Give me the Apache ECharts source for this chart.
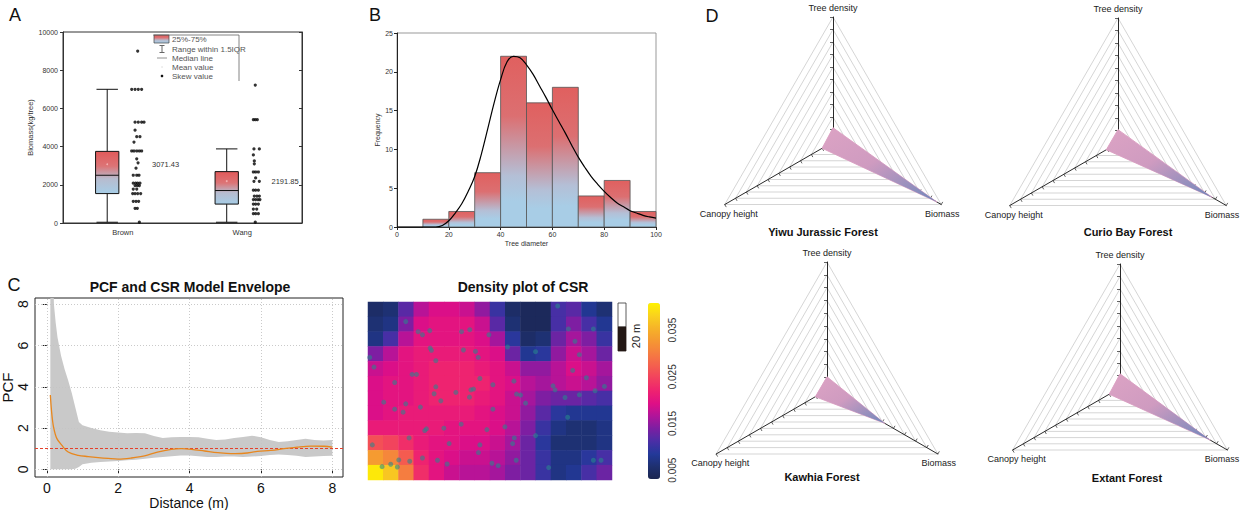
<!DOCTYPE html>
<html><head><meta charset="utf-8">
<script src="https://cdn.jsdelivr.net/npm/echarts@6/dist/echarts.min.js"></script>
<style>html,body{margin:0;padding:0;background:#fff}#main{width:1241px;height:510px}</style>
</head><body><div id="main"></div>
<script>
// ---------- Panel A: biomass box plot ----------
const boxCategories = ['Brown', 'Wang'];
// [lower whisker, Q1, median, Q3, upper whisker]
const boxStats = [[40, 1540, 2500, 3750, 7000], [40, 990, 1700, 2690, 3880]];
const boxMeans = [3071.43, 2191.85];
const legendLabels = ['25%-75%', 'Range within 1.5IQR', 'Median line', 'Mean value', 'Skew value'];
// [jitter offset from category, biomass]
const brownPoints = [
  [0.125,9000],
  [0.075,7000],[0.103,7000],[0.130,7000],[0.158,7000],
  [0.103,5280],[0.130,5280],[0.158,5280],[0.178,5280],
  [0.103,4860],[0.117,4520],[0.144,4520],[0.094,4240],
  [0.075,3770],[0.094,3770],[0.117,3770],[0.139,3770],[0.158,3770],
  [0.117,3360],[0.128,3150],[0.111,2870],
  [0.088,2500],[0.117,2500],[0.136,2500],
  [0.088,2085],[0.108,2085],[0.125,2085],[0.144,2085],
  [0.103,1960],[0.122,1960],[0.139,1960],
  [0.088,1775],[0.117,1775],
  [0.083,1540],[0.103,1540],[0.125,1540],[0.150,1540],
  [0.088,1135],[0.111,1135],[0.133,1135],
  [0.103,770],[0.122,770],[0.139,40]
];
const wangPoints = [
  [0.109,7220],
  [0.093,5410],[0.109,5410],[0.126,5410],
  [0.098,3880],[0.143,3880],[0.093,3565],[0.101,3250],[0.101,3100],
  [0.093,2670],[0.112,2670],[0.135,2670],[0.112,2360],
  [0.098,2180],[0.143,2180],
  [0.093,1720],[0.112,1720],[0.135,1720],
  [0.101,1410],[0.123,1410],[0.143,1410],
  [0.093,1225],[0.112,1225],[0.132,1225],[0.148,1225],
  [0.093,990],[0.112,990],[0.135,990],
  [0.093,730],[0.121,730],
  [0.093,490],[0.112,490],[0.135,490],[0.109,40]
];

// ---------- Panel B: histogram ----------
const binStarts = [10, 20, 30, 40, 50, 60, 70, 80, 90];
const binWidth = 10;
const binCounts = [1, 2, 7, 22, 16, 18, 4, 6, 2];
const fitX = [0,5,10,15,17.5,20,22.5,25,27.5,30,32.5,35,37.5,40,42.5,45,47.5,50,52.5,55,57.5,60,62.5,65,67.5,70,72.5,75,77.5,80,82.5,85,87.5,90,92.5,95,97.5,100];
const fitY = [0,0,0,0,0.2,0.8,1.8,3.0,4.6,6.5,9.3,12.6,16.0,19.0,21.3,22.0,21.8,20.9,19.7,18.2,16.7,15.1,13.6,12.1,10.5,9.0,7.7,6.5,5.5,4.6,3.8,3.1,2.6,2.1,1.8,1.5,1.3,1.15];

// ---------- Panel C: PCF + envelope ----------
const envX = [0.1,0.15,0.2,0.25,0.3,0.4,0.5,0.6,0.7,0.8,0.9,1.0,1.25,1.5,1.75,2,2.25,2.5,2.75,3,3.25,3.5,3.75,4,4.25,4.5,4.75,5,5.25,5.5,5.75,6,6.25,6.5,6.75,7,7.25,7.5,7.75,8];
const envHigh = [12,12,8.0,7.1,6.4,5.5,4.85,4.3,3.7,3.0,2.3,2.14,2.0,1.9,1.82,1.78,1.75,1.76,1.75,1.62,1.52,1.55,1.57,1.57,1.55,1.48,1.42,1.45,1.52,1.57,1.63,1.56,1.42,1.33,1.36,1.42,1.48,1.42,1.40,1.42];
const envLow = [0,0,0,0,0,0,0,0,0,0.03,0.12,0.25,0.32,0.36,0.38,0.40,0.44,0.47,0.52,0.56,0.60,0.63,0.67,0.67,0.64,0.60,0.60,0.62,0.62,0.60,0.62,0.65,0.70,0.72,0.70,0.66,0.60,0.62,0.65,0.66];
const pcfX = [0.1,0.14,0.19,0.28,0.42,0.6,0.88,1.16,1.44,1.72,2.0,2.37,2.74,3.1,3.49,3.77,4.05,4.42,4.79,5.16,5.53,5.9,6.28,6.65,7.02,7.4,7.77,8.0];
const pcfY = [3.6,2.7,2.05,1.5,1.17,0.84,0.68,0.62,0.57,0.53,0.5,0.55,0.65,0.84,0.97,1.0,0.97,0.89,0.81,0.76,0.78,0.87,0.92,1.0,1.08,1.13,1.12,1.08];
const csrLevel = 1;
const pcfTicks = [0, 2, 4, 6, 8];

// ---------- Panel C: density of CSR ----------
const plotWidthM = 203, plotHeightM = 148;
// rows listed from top to bottom, 16 columns each
const densityGrid = [
  [0.005,0.006,0.012,0.017,0.019,0.019,0.018,0.015,0.010,0.005,0.004,0.004,0.011,0.012,0.008,0.006],
  [0.006,0.007,0.014,0.019,0.020,0.020,0.020,0.018,0.012,0.006,0.004,0.004,0.011,0.014,0.011,0.008],
  [0.007,0.011,0.017,0.020,0.020,0.020,0.020,0.019,0.016,0.009,0.005,0.006,0.013,0.016,0.014,0.010],
  [0.014,0.017,0.020,0.021,0.021,0.021,0.021,0.020,0.019,0.013,0.008,0.009,0.015,0.018,0.016,0.013],
  [0.018,0.019,0.020,0.021,0.022,0.022,0.022,0.021,0.020,0.018,0.015,0.015,0.017,0.019,0.018,0.016],
  [0.019,0.020,0.020,0.021,0.022,0.022,0.022,0.022,0.020,0.019,0.017,0.016,0.017,0.018,0.017,0.015],
  [0.019,0.020,0.020,0.021,0.022,0.022,0.022,0.021,0.020,0.018,0.016,0.014,0.013,0.013,0.012,0.011],
  [0.019,0.020,0.021,0.021,0.021,0.021,0.021,0.020,0.019,0.018,0.015,0.012,0.009,0.008,0.008,0.008],
  [0.021,0.021,0.021,0.021,0.021,0.020,0.020,0.020,0.019,0.017,0.014,0.010,0.007,0.006,0.006,0.007],
  [0.026,0.025,0.023,0.021,0.020,0.020,0.019,0.019,0.018,0.016,0.013,0.009,0.006,0.006,0.006,0.007],
  [0.033,0.031,0.027,0.022,0.020,0.019,0.018,0.018,0.017,0.015,0.013,0.010,0.007,0.007,0.009,0.011],
  [0.040,0.037,0.030,0.023,0.020,0.018,0.017,0.017,0.016,0.014,0.013,0.010,0.007,0.008,0.011,0.013]
];
const csrPoints = [
  [31.4,131.7],[41.7,123.3],[45.3,120.8],[51.4,124.2],[77.8,123.3],[84.7,125.0],[100.6,120.8],[157.8,144.7],
  [166.7,125.6],[187.5,125.6],[172.2,115.3],[175.8,104.2],[116.1,110.6],[139.4,106.7],[1.4,101.9],[5.0,93.9],
  [51.7,109.7],[52.8,107.8],[56.4,99.2],[79.4,108.1],[89.4,106.9],[91.7,101.9],[36.7,87.8],[40.3,87.8],
  [22.2,81.1],[93.1,84.4],[103.9,79.2],[121.4,82.2],[56.4,77.5],[55.0,71.7],[73.1,72.8],[85.6,75.0],
  [87.8,75.6],[84.4,68.9],[123.6,71.4],[126.9,70.6],[131.1,63.9],[153.9,78.3],[155.6,75.0],[170.3,91.1],
  [181.7,85.0],[188.9,74.2],[196.7,77.8],[175.8,70.8],[163.9,68.6],[13.1,64.7],[31.4,63.3],[22.2,58.9],
  [29.2,56.4],[43.6,60.6],[60.6,65.8],[103.9,58.9],[166.1,52.2],[3.6,29.2],[34.2,35.0],[47.2,41.1],
  [48.6,42.5],[63.1,43.1],[77.5,46.4],[98.9,41.9],[113.9,44.2],[121.7,35.0],[120.3,30.3],[139.4,36.9],
  [67.5,30.3],[93.1,29.2],[91.9,22.8],[45.3,18.3],[57.8,16.4],[65.8,13.3],[103.1,13.9],[108.3,11.9],
  [123.3,16.4],[150.3,10.3],[187.5,16.4],[193.9,16.4],[11.7,11.1],[18.9,13.1],[24.4,10.8],[25.6,16.7],[34.7,15.6]
];
const densityMin = 0.0031, densityMax = 0.0408;
const colorbarLabels = [0.005, 0.015, 0.025, 0.035];
const colorbarTicks = [0.005, 0.01, 0.015, 0.02, 0.025, 0.03, 0.035, 0.04];
const densityPalette = ['#1b2650','#1e3070','#23399a','#4a2ea6','#7b1fa2','#b0149a','#df0f86','#ee2270','#f2405f','#f45f4e','#f57d40','#f59832','#f6b428','#f9d21e','#fff200'];

// ---------- Panel D: radar ----------
const radarIndicators = ['Tree density', 'Canopy height', 'Biomass'];
const forests = ['Yiwu Jurassic Forest', 'Curio Bay Forest', 'Kawhia Forest', 'Extant Forest'];
const forestValues = [[0.114, 0.10, 0.96], [0.107, 0.108, 0.87], [0.103, 0.105, 0.52], [0.114, 0.10, 0.84]];

// ================= layout / style =================
const FONT = 'Liberation Sans, Arial, sans-serif';
const radarLayout = [
  {c: [833, 142], r: 125, title: [823, 232]},
  {c: [1118, 143], r: 125, title: [1128, 232]},
  {c: [827, 390], r: 128, title: [822, 477]},
  {c: [1120, 388], r: 124, title: [1127, 478]}
];
const BOX_SHIFT = -0.13, BOX_W = 0.195;

function boxGrad() {
  return new echarts.graphic.LinearGradient(0, 0, 0, 1, [
    {offset: 0, color: '#e15a5a'}, {offset: 0.35, color: '#dc7476'},
    {offset: 0.65, color: '#b7bccf'}, {offset: 1, color: '#a6cde6'}]);
}
function barGrad() {
  return new echarts.graphic.LinearGradient(0, 0, 0, 1, [
    {offset: 0, color: '#e0605f'}, {offset: 0.35, color: '#dc6f71'},
    {offset: 0.7, color: '#b4bfd6'}, {offset: 0.85, color: '#a8cde6'}, {offset: 1, color: '#a8cde6'}]);
}

function renderBox(params, api) {
  const c = api.value(0);
  const unit = api.size([1, 0])[0];
  const xc = api.coord([c + BOX_SHIFT, 0])[0];
  const hw = BOX_W * unit / 2;
  const y = k => api.coord([c, api.value(k)])[1];
  const yMin = y(1), yQ1 = y(2), yMed = y(3), yQ3 = y(4), yMax = y(5), yMean = y(6);
  const lbl = api.coord([c + 0.245, api.value(6)]);
  const ln = (x1, y1, x2, y2) => ({type: 'line', shape: {x1, y1, x2, y2}, style: {stroke: '#111', lineWidth: 1}});
  const cw = hw * 0.92;
  return {type: 'group', children: [
    ln(xc, yMax, xc, yQ3), ln(xc, yQ1, xc, yMin),
    ln(xc - cw, yMax, xc + cw, yMax), ln(xc - cw, yMin, xc + cw, yMin),
    {type: 'rect', shape: {x: xc - hw, y: yQ3, width: 2 * hw, height: yQ1 - yQ3}, style: {fill: boxGrad(), stroke: '#111', lineWidth: 1}},
    ln(xc - hw, yMed, xc + hw, yMed),
    {type: 'circle', shape: {cx: xc, cy: yMean, r: 0.9}, style: {fill: '#f4b0b0'}},
    {type: 'text', style: {text: api.value(6).toFixed(2), x: lbl[0], y: lbl[1], fill: '#333', fontSize: 7.5, fontFamily: FONT, align: 'left', verticalAlign: 'middle'}}
  ]};
}
function renderBin(params, api) {
  const p0 = api.coord([api.value(0), api.value(2)]);
  const p1 = api.coord([api.value(1), 0]);
  return {type: 'rect', shape: {x: p0[0], y: p0[1], width: p1[0] - p0[0], height: p1[1] - p0[1]},
    style: {fill: barGrad(), stroke: '#555', lineWidth: 0.8}};
}
function renderEnvelope(params, api) {
  if (params.dataIndex !== 0) return null;
  const upper = envX.map((x, i) => api.coord([x, envHigh[i]]));
  const lower = envX.map((x, i) => api.coord([x, envLow[i]])).reverse();
  return {type: 'polygon', shape: {points: upper.concat(lower)}, style: {fill: '#c9c9c9', stroke: null}};
}

const boxData = boxStats.map((s, i) => [i + 1].concat(s, [boxMeans[i]]));
const jitterData = brownPoints.map(p => [1 + p[0], p[1]]).concat(wangPoints.map(p => [2 + p[0], p[1]]));
const binData = binStarts.map((s, i) => [s, s + binWidth, binCounts[i]]);
const envData = envX.map((x, i) => [x, envLow[i], envHigh[i]]);
const heatData = [];
densityGrid.forEach((row, ri) => row.forEach((v, ci) => heatData.push([ci, densityGrid.length - 1 - ri, v])));
const colCats = densityGrid[0].map((_, i) => String(i));
const rowCats = densityGrid.map((_, i) => String(i));

const gridLineStyle = {color: '#c4c4c4', type: [1, 2], width: 0.9};
const pcfGridLines = pcfTicks.map(v => ({xAxis: v, lineStyle: gridLineStyle})).concat(pcfTicks.map(v => ({yAxis: v, lineStyle: gridLineStyle})));

// ---------- graphic (free texts & decorations) ----------
const graphics = [];
const T = (text, x, y, o) => graphics.push(Object.assign({type: 'text', x, y, style: Object.assign({text, fill: '#111', font: '12px ' + FONT, textAlign: 'center', textVerticalAlign: 'middle'}, o || {})}));
T('A', 15, 15, {font: '18px ' + FONT});
T('B', 375, 15, {font: '18px ' + FONT});
T('C', 14, 285, {font: '18px ' + FONT});
T('D', 712, 16, {font: '18px ' + FONT});
T('PCF and CSR Model Envelope', 190, 287, {font: 'bold 14px ' + FONT});
T('Density plot of CSR', 523, 287, {font: 'bold 14px ' + FONT});
// legend of panel A
const legY = [39, 49, 58, 67, 76];
legendLabels.forEach((t, i) => T(t, 172, legY[i], {font: '8px ' + FONT, fill: '#555', textAlign: 'left'}));
graphics.push({type: 'rect', shape: {x: 154, y: 35, width: 15, height: 8}, style: {fill: boxGrad(), stroke: '#444', lineWidth: 0.7}});
graphics.push({type: 'polyline', shape: {points: [[153, 35], [239, 35], [239, 81]]}, style: {stroke: '#666', lineWidth: 0.8, fill: null}});
graphics.push({type: 'line', shape: {x1: 162, y1: 45.5, x2: 162, y2: 52.5}, style: {stroke: '#666', lineWidth: 1}});
graphics.push({type: 'line', shape: {x1: 159.5, y1: 45.5, x2: 164.5, y2: 45.5}, style: {stroke: '#666', lineWidth: 1}});
graphics.push({type: 'line', shape: {x1: 159.5, y1: 52.5, x2: 164.5, y2: 52.5}, style: {stroke: '#666', lineWidth: 1}});
graphics.push({type: 'line', shape: {x1: 157, y1: 58, x2: 167, y2: 58}, style: {stroke: '#777', lineWidth: 0.8}});
graphics.push({type: 'circle', shape: {cx: 162, cy: 67, r: 0.8}, style: {fill: '#e6e6e6'}});
graphics.push({type: 'circle', shape: {cx: 162, cy: 76, r: 1.3}, style: {fill: '#111'}});
// scale bar of density plot
graphics.push({type: 'rect', shape: {x: 618, y: 303, width: 8, height: 24}, style: {fill: '#fff', stroke: '#333', lineWidth: 0.8}});
graphics.push({type: 'rect', shape: {x: 618, y: 327, width: 8, height: 24}, style: {fill: '#231815', stroke: '#231815', lineWidth: 0.8}});
graphics.push({type: 'text', x: 636, y: 336, rotation: Math.PI / 2, style: {text: '20 m', fill: '#222', font: '11px ' + FONT, textAlign: 'center', textVerticalAlign: 'middle'}});
// radar labels & titles
radarLayout.forEach((L, i) => {
  const [cx, cy] = L.c, r = L.r;
  T(radarIndicators[0], cx, cy - r - 9, {font: '9px ' + FONT, fill: '#222'});
  T(radarIndicators[1], cx - r * 0.866 + 4, cy + r / 2 + 9, {font: '9px ' + FONT, fill: '#222'});
  T(radarIndicators[2], Math.min(cx + r * 0.866 + 1, 1222), cy + r / 2 + 9, {font: '9px ' + FONT, fill: '#222'});
  T(forests[i], L.title[0], L.title[1], {font: 'bold 11px ' + FONT, fill: '#111'});
});

const radarComponents = radarLayout.map(L => ({
  center: L.c, radius: L.r, shape: 'polygon', splitNumber: 10, startAngle: 90,
  indicator: radarIndicators.map(n => ({name: n, min: 0, max: 1})),
  axisName: {show: false},
  splitLine: {lineStyle: {color: '#b8b8b8', width: 0.6}},
  splitArea: {show: false},
  axisLine: {lineStyle: {color: '#111', width: 0.9}},
  axisTick: {show: true, length: 3, lineStyle: {color: '#222', width: 0.7}},
  axisLabel: {show: false}
}));
const radarSeries = forestValues.map((v, i) => ({
  type: 'radar', radarIndex: i, symbol: 'none', silent: true,
  lineStyle: {color: '#e2a6c6', width: 1},
  areaStyle: {opacity: 1, color: new echarts.graphic.LinearGradient(0, 0, 1, 1, [
    {offset: 0, color: '#dca3c4'}, {offset: 0.45, color: '#cf9bc0'}, {offset: 1, color: '#6f87bb'}])},
  data: [{value: v, name: forests[i]}]
}));

const small = {fontSize: 7, color: '#333', fontFamily: FONT};
const option = {
  backgroundColor: '#fff',
  animation: false,
  textStyle: {fontFamily: FONT},
  grid: [
    {left: 63, top: 32, width: 239, height: 191, show: true, borderColor: '#333', borderWidth: 1, outerBoundsMode: 'none'},
    {left: 397, top: 33, width: 259, height: 194, show: true, borderColor: '#999', borderWidth: 1, outerBoundsMode: 'none'},
    {left: 35, top: 298, width: 308, height: 179, show: true, borderColor: '#222', borderWidth: 1, outerBoundsMode: 'none'},
    {left: 368, top: 302, width: 244, height: 178, outerBoundsMode: 'none'},
    {left: 368, top: 302, width: 244, height: 178, outerBoundsMode: 'none'},
    {left: 648, top: 303, width: 12, height: 176, outerBoundsMode: 'none'}
  ],
  xAxis: [
    {gridIndex: 0, type: 'category', data: boxCategories, boundaryGap: true,
      axisLine: {lineStyle: {color: '#333'}}, axisTick: {alignWithLabel: true, length: 3, lineStyle: {color: '#333'}},
      axisLabel: Object.assign({}, small, {fontSize: 7.5, margin: 5}), splitLine: {show: false}},
    {gridIndex: 0, type: 'value', min: 0.5, max: 2.5, show: false},
    {gridIndex: 1, type: 'value', min: 0, max: 100, interval: 20,
      axisLine: {lineStyle: {color: '#222'}}, axisTick: {length: 3, lineStyle: {color: '#222'}},
      axisLabel: Object.assign({}, small, {margin: 4}), splitLine: {show: false},
      name: 'Tree diameter', nameLocation: 'middle', nameGap: 13, nameTextStyle: {fontSize: 7, color: '#333'}},
    {gridIndex: 2, type: 'value', min: -0.33, max: 8.3,
      axisLine: {show: false}, axisTick: {customValues: pcfTicks, length: 4, lineStyle: {color: '#222'}},
      axisLabel: {customValues: pcfTicks, fontSize: 14, color: '#111', margin: 4}, splitLine: {show: false},
      name: 'Distance (m)', nameLocation: 'middle', nameGap: 14, nameTextStyle: {fontSize: 14, color: '#111'}},
    {gridIndex: 3, type: 'category', data: colCats, show: false},
    {gridIndex: 4, type: 'value', min: 0, max: plotWidthM, show: false},
    {gridIndex: 5, type: 'value', min: 0, max: 1, show: false}
  ],
  yAxis: [
    {gridIndex: 0, type: 'value', min: 0, max: 10000, interval: 2000,
      axisLine: {show: true, lineStyle: {color: '#333'}}, axisTick: {show: true, length: 3, lineStyle: {color: '#333'}},
      axisLabel: Object.assign({}, small, {margin: 5, formatter: v => String(v)}), splitLine: {show: false},
      name: 'Biomass(kg/tree)', nameLocation: 'middle', nameGap: 27, nameTextStyle: {fontSize: 7.5, color: '#333'}},
    {gridIndex: 0, type: 'value', position: 'right', min: 0, max: 10000, interval: 2000,
      axisLine: {show: true, lineStyle: {color: '#333'}}, axisTick: {show: true, inside: true, length: 3, lineStyle: {color: '#333'}},
      axisLabel: {show: false}, splitLine: {show: false}},
    {gridIndex: 1, type: 'value', min: 0, max: 25, interval: 5,
      axisLine: {show: true, lineStyle: {color: '#222'}}, axisTick: {show: true, length: 3, lineStyle: {color: '#222'}},
      axisLabel: Object.assign({}, small, {margin: 4}), splitLine: {show: false},
      name: 'Frequency', nameLocation: 'middle', nameGap: 15, nameTextStyle: {fontSize: 7, color: '#333'}},
    {gridIndex: 2, type: 'value', min: -0.37, max: 8.3,
      axisLine: {show: false}, axisTick: {show: true, customValues: pcfTicks, length: 4, lineStyle: {color: '#222'}},
      axisLabel: {customValues: pcfTicks, rotate: 90, fontSize: 14, color: '#111', margin: 5}, splitLine: {show: false},
      name: 'PCF', nameLocation: 'middle', nameGap: 16, nameRotate: 90, nameTextStyle: {fontSize: 15, color: '#111'}},
    {gridIndex: 3, type: 'category', data: rowCats, show: false},
    {gridIndex: 4, type: 'value', min: 0, max: plotHeightM, show: false},
    {gridIndex: 5, type: 'value', position: 'right', min: densityMin, max: densityMax,
      axisLine: {show: false}, axisTick: {show: true, customValues: colorbarTicks, length: 4, lineStyle: {color: '#333'}},
      axisLabel: {customValues: colorbarLabels, rotate: 90, fontSize: 10, color: '#333', margin: 7, formatter: v => v.toFixed(3)},
      splitLine: {show: false}}
  ],
  radar: radarComponents,
  visualMap: {
    type: 'continuous', seriesIndex: 8, min: densityMin, max: densityMax, orient: 'vertical',
    left: 648, top: 303, itemWidth: 12, itemHeight: 176, padding: 0, calculable: false, hoverLink: false,
    inRange: {color: densityPalette}, textStyle: {fontSize: 1, color: 'rgba(0,0,0,0)'}
  },
  graphic: graphics,
  series: [
    {type: 'custom', xAxisIndex: 1, yAxisIndex: 0, renderItem: renderBox, data: boxData, encode: {x: 0, y: [1, 5]}, silent: true, z: 2},
    {type: 'scatter', xAxisIndex: 1, yAxisIndex: 0, data: jitterData, symbol: 'circle', symbolSize: 3.2, itemStyle: {color: '#000'}, silent: true, z: 3},
    {type: 'custom', xAxisIndex: 2, yAxisIndex: 2, renderItem: renderBin, data: binData, encode: {x: [0, 1], y: 2}, silent: true, z: 2},
    {type: 'line', xAxisIndex: 2, yAxisIndex: 2, data: fitX.map((x, i) => [x, fitY[i]]), smooth: 0.4, symbol: 'none',
      lineStyle: {color: '#000', width: 1.2}, silent: true, z: 5},
    {type: 'custom', xAxisIndex: 3, yAxisIndex: 3, renderItem: renderEnvelope, data: envData, encode: {x: 0, y: [1, 2]},
      clip: true, silent: true, z: 2,
      markLine: {silent: true, symbol: 'none', label: {show: false}, data: pcfGridLines, z: 3}},
    {type: 'scatter', xAxisIndex: 3, yAxisIndex: 3, data: [], silent: true},
    {type: 'line', xAxisIndex: 3, yAxisIndex: 3, data: pcfX.map((x, i) => [x, pcfY[i]]), smooth: 0.35, symbol: 'none',
      lineStyle: {color: '#e8871e', width: 1.3}, silent: true, z: 6,
      markLine: {silent: true, symbol: 'none', label: {show: false}, z: 5,
        data: [{yAxis: csrLevel, lineStyle: {color: '#e5402b', type: [3, 2], width: 1}}]}},
    {type: 'scatter', xAxisIndex: 6, yAxisIndex: 6, data: [], silent: true},
    {type: 'heatmap', xAxisIndex: 4, yAxisIndex: 4, data: heatData, itemStyle: {borderWidth: 0}, emphasis: {disabled: true}, silent: true, progressive: 0},
    {type: 'scatter', xAxisIndex: 5, yAxisIndex: 5, data: csrPoints, symbolSize: 5, itemStyle: {color: 'rgba(40,135,140,0.72)'}, silent: true, z: 4}
  ].concat(radarSeries)
};
const chart = echarts.init(document.getElementById('main'), null, {renderer: 'svg'});
chart.setOption(option);
</script></body></html>
